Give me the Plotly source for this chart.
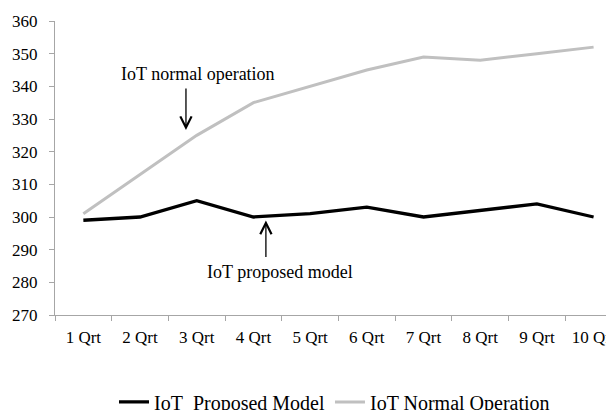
import plotly.graph_objects as go

categories = ["1 Qrt", "2 Qrt", "3 Qrt", "4 Qrt", "5 Qrt", "6 Qrt", "7 Qrt", "8 Qrt", "9 Qrt", "10 Qrt"]
proposed = [299, 300, 305, 300, 301, 303, 300, 302, 304, 300]
normal = [301, 313, 325, 335, 340, 345, 349, 348, 350, 352]
y_ticks = [270, 280, 290, 300, 310, 320, 330, 340, 350, 360]

FF = "Liberation Serif"

fig = go.Figure()
fig.add_trace(go.Scatter(x=categories, y=proposed, mode="lines",
                         name="IoT\u00a0 Proposed Model",
                         line=dict(color="#000000", width=3.3)))
fig.add_trace(go.Scatter(x=categories, y=normal, mode="lines",
                         name="IoT Normal Operation",
                         line=dict(color="#c0c0c0", width=3)))

fig.update_layout(
    width=606, height=402,
    margin=dict(l=47, r=0, t=13, b=95),
    paper_bgcolor="white", plot_bgcolor="white",
    font=dict(family=FF, size=17, color="#000000"),
    showlegend=True,
    legend=dict(orientation="h", x=0.5, xanchor="center", xref="paper",
                y=0.02, yanchor="middle", yref="container",
                font=dict(family=FF, size=20, color="#000000"),
                tracegroupgap=0, bgcolor="rgba(0,0,0,0)"),
    xaxis=dict(
        type="category", categoryorder="array", categoryarray=categories,
        range=[-0.5, 9.36], showgrid=False, zeroline=False, automargin=False,
        showline=True, linecolor="#a6a6a6", linewidth=1,
        ticks="outside", tickson="boundaries", ticklen=5, tickcolor="#a6a6a6",
        ticklabelstandoff=7, tickfont=dict(family=FF, size=17, color="#000000"),
    ),
    yaxis=dict(
        range=[270, 360], tickvals=y_ticks, showgrid=False, zeroline=False, automargin=False,
        showline=True, linecolor="#a6a6a6", linewidth=1,
        ticks="outside", ticklen=5, tickcolor="#a6a6a6",
        ticklabelstandoff=8, tickfont=dict(family=FF, size=17, color="#000000"),
    ),
    annotations=[
        dict(x=2.03, y=343.8, xref="x", yref="y", text="IoT normal operation",
             showarrow=False, font=dict(family=FF, size=18, color="#000000")),
        dict(x=1.81, y=326.6, xref="x", yref="y", text="", showarrow=True,
             ax=0, ay=-43, arrowhead=5, arrowsize=1.7, arrowwidth=1.3, arrowcolor="#000000"),
        dict(x=3.46, y=283.2, xref="x", yref="y", text="IoT proposed model",
             showarrow=False, font=dict(family=FF, size=18, color="#000000")),
        dict(x=3.22, y=298.9, xref="x", yref="y", text="", showarrow=True,
             ax=0, ay=38, arrowhead=5, arrowsize=1.7, arrowwidth=1.3, arrowcolor="#000000"),
    ],
)

fig.write_html("out.html")
